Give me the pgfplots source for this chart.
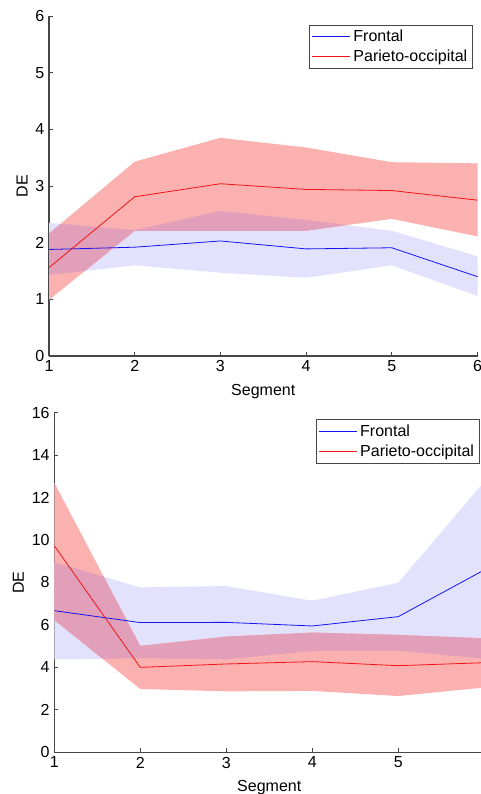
\documentclass[border=0pt]{standalone}
\usepackage{pgfplots}
\pgfplotsset{compat=1.18}
\usepackage{fontspec}
\setmainfont{Liberation Sans}
\definecolor{axgray}{RGB}{70,70,70}
\definecolor{lblue}{RGB}{20,20,240}
\definecolor{lred}{RGB}{240,20,20}
\definecolor{bandblue}{RGB}{226,226,252}
\definecolor{bandred}{RGB}{252,177,177}
\definecolor{bandmix}{RGB}{225,159,185}
\pgfplotsset{
  myaxis/.style={
    scale only axis,
    anchor=south west,
    xmin=1, xmax=6,
    axis x line*=bottom, axis y line*=left,
    axis line style={axgray, line width=0.8pt},
    tick style={axgray, line width=0.6pt},
    tick align=inside,
    major tick length=3pt,
    xtick={1,2,3,4,5,6},
    /pgf/number format/assume math mode=true,
    tick label style={font=\fontsize{12}{14}\selectfont},
    label style={font=\fontsize{12}{14}\selectfont},
    xlabel={Segment}, ylabel={DE},
    xlabel style={yshift=-2.5pt},
    ylabel style={yshift=-1pt},
    legend cell align=left,
    legend style={draw=axgray, line width=0.6pt, font=\fontsize{12}{14}\selectfont,
      row sep=1pt, inner xsep=2pt, inner ysep=1.5pt, fill=white},
    legend image code/.code={\draw[#1] (0cm,0cm) -- (1cm,0cm);},
  }
}
\begin{document}
\begin{tikzpicture}
% top panel
\begin{axis}[myaxis, at={(36.75pt,328.5pt)}, width=321.4pt, height=255pt,
  ymin=0, ymax=6, ytick={0,1,2,3,4,5,6},
  legend style={at={(0.9895,0.975)}, anchor=north east}]
% blue band (Frontal), red band (Parieto-occipital), then their overlap
\addplot[draw=none, fill=bandblue, forget plot] coordinates {
 (1,2.35) (2,2.22) (3,2.56) (4,2.40) (5,2.21) (6,1.76)
 (6,1.06) (5,1.60) (4,1.38) (3,1.47) (2,1.60) (1,1.43)} -- cycle;
\addplot[draw=none, fill=bandred, forget plot] coordinates {
 (1,2.16) (2,3.43) (3,3.85) (4,3.68) (5,3.42) (6,3.40)
 (6,2.11) (5,2.42) (4,2.21) (3,2.21) (2,2.21) (1,0.99)} -- cycle;
\addplot[draw=none, fill=bandmix, forget plot] coordinates {
 (1,2.16) (1.1357,2.3324) (2,2.22) (3,2.56) (4,2.40) (4.475,2.3098)
 (4,2.21) (3,2.21) (2,2.21) (1.419,1.5013) (1,1.43)} -- cycle;
\addplot[color=lblue, line width=0.6pt] coordinates {
 (1,1.88) (2,1.92) (3,2.03) (4,1.89) (5,1.91) (6,1.40)};
\addlegendentry{Frontal}
\addplot[color=lred, line width=0.6pt] coordinates {
 (1,1.56) (2,2.81) (3,3.04) (4,2.94) (5,2.92) (6,2.75)};
\addlegendentry{Parieto-occipital}
\end{axis}
% bottom panel
\begin{axis}[myaxis, at={(40.7pt,31.3pt)}, width=322.5pt, height=254.7pt,
  ymin=0, ymax=16, ytick={0,2,4,6,8,10,12,14,16},
  xticklabels={1,2,3,4,5,{}},
  legend style={at={(0.9895,0.98)}, anchor=north east}]
\addplot[draw=none, fill=bandblue, forget plot] coordinates {
 (1,8.95) (2,7.77) (3,7.83) (4,7.14) (5,7.99) (6,12.75)
 (6,4.40) (5,4.79) (4,4.77) (3,4.38) (2,4.43) (1,4.38)} -- cycle;
\addplot[draw=none, fill=bandred, forget plot] coordinates {
 (1,12.70) (2,5.01) (3,5.45) (4,5.64) (5,5.53) (6,5.37)
 (6,3.05) (5,2.65) (4,2.89) (3,2.87) (2,2.98) (1,6.23)} -- cycle;
\addplot[draw=none, fill=bandmix, forget plot] coordinates {
 (1,8.95) (1.576,8.270) (2,5.01) (3,5.45) (4,5.64) (5,5.53) (6,5.37)
 (6,4.40) (5,4.79) (4,4.77) (3,4.38) (2,4.43) (1.5606,4.408) (1,6.23)} -- cycle;
\addplot[color=lblue, line width=0.6pt] coordinates {
 (1,6.67) (2,6.11) (3,6.12) (4,5.95) (5,6.39) (6,8.59)};
\addlegendentry{Frontal}
\addplot[color=lred, line width=0.6pt] coordinates {
 (1,9.73) (2,4.00) (3,4.16) (4,4.27) (5,4.08) (6,4.22)};
\addlegendentry{Parieto-occipital}
\end{axis}
\pgfresetboundingbox
\useasboundingbox (0pt,0pt) rectangle (360pt,595.5pt);
\end{tikzpicture}
\end{document}
